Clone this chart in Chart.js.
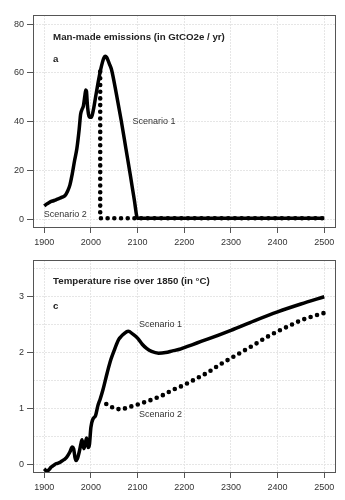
<!DOCTYPE html>
<html>
<head>
<meta charset="utf-8">
<script src="https://cdn.jsdelivr.net/npm/chart.js@4/dist/chart.umd.min.js"></script>
<style>
  body { margin: 0; background: #fff; }
  canvas { position: absolute; left: 0; }
</style>
</head>
<body>
<canvas id="emissions" width="345" height="250" style="top:0"></canvas>
<canvas id="temperature" width="345" height="255" style="top:245px"></canvas>
<script>
// values
const yearTicks = [1900, 2000, 2100, 2200, 2300, 2400, 2500];
const emissionTicks = [0, 20, 40, 60, 80];
const tempTicks = [0, 0.5, 1, 1.5, 2, 2.5, 3, 3.5];

const emYears1 = [1900, 1905, 1910, 1915, 1920, 1925, 1930, 1935, 1940, 1945, 1950, 1955, 1960, 1965, 1970, 1975, 1978, 1981, 1984, 1987, 1989, 1990.5, 1992.5, 1995, 1998, 2001, 2005, 2010, 2015, 2020, 2025, 2028, 2031, 2034, 2037, 2040, 2044, 2055, 2065, 2075, 2085, 2093, 2100, 2500];
const emValues1 = [5.5, 6.2, 6.8, 7.3, 7.6, 8.0, 8.4, 8.8, 9.2, 9.8, 11.5, 14, 18.5, 24, 29, 37, 43, 45, 46.5, 50.5, 53, 52.5, 47, 43, 41.8, 41.8, 44.5, 50, 55.5, 60.5, 64.5, 66.2, 66.8, 66.3, 65, 63.5, 61.5, 51, 40.5, 29, 17.5, 8, 0.4, 0.4];
const emYears2 = [2020, 2020, 2500];
const emValues2 = [60.5, 0.4, 0.4];

const tempYears1 = [1900, 1905, 1910, 1915, 1920, 1925, 1930, 1935, 1940, 1945, 1950, 1955, 1960, 1963, 1966, 1968, 1971, 1975, 1979, 1981, 1985, 1988, 1991, 1994, 1997, 2000, 2005, 2010, 2015, 2020, 2026, 2035, 2043, 2050, 2055, 2060, 2065, 2070, 2080, 2090, 2100, 2110, 2120, 2130, 2145, 2160, 2175, 2190, 2200, 2250, 2300, 2350, 2400, 2450, 2500];
const tempValues1 = [-0.08, -0.12, -0.1, -0.05, -0.02, 0.01, 0.02, 0.04, 0.07, 0.1, 0.15, 0.22, 0.31, 0.28, 0.12, 0.07, 0.1, 0.22, 0.38, 0.44, 0.28, 0.38, 0.47, 0.3, 0.36, 0.66, 0.82, 0.87, 1.05, 1.17, 1.34, 1.64, 1.88, 2.04, 2.15, 2.24, 2.29, 2.33, 2.38, 2.33, 2.26, 2.15, 2.07, 2.02, 1.99, 2.0, 2.03, 2.06, 2.09, 2.24, 2.40, 2.57, 2.73, 2.87, 3.0];
const tempYears2 = [2033, 2050, 2065, 2080, 2100, 2125, 2150, 2175, 2200, 2225, 2250, 2275, 2300, 2325, 2350, 2375, 2400, 2425, 2450, 2475, 2500];
const tempValues2 = [1.08, 1.0, 0.98, 1.02, 1.07, 1.14, 1.22, 1.33, 1.42, 1.53, 1.64, 1.78, 1.90, 2.02, 2.14, 2.27, 2.38, 2.48, 2.58, 2.65, 2.71];

const FONT = '"Liberation Sans", Arial, sans-serif';

function toPoints(xs, ys) {
    return xs.map((x, i) => ({ x: x, y: ys[i] }));
}

// frame round the plot area + text labels in data coords
const framePlugin = {
    id: 'frame',
    beforeDatasetsDraw(chart) {
        const a = chart.chartArea;
        const ctx = chart.ctx;
        ctx.save();
        ctx.strokeStyle = '#555';
        ctx.lineWidth = 1;
        ctx.strokeRect(Math.round(a.left) + 0.5, Math.round(a.top) + 0.5, Math.round(a.right - a.left), Math.round(a.bottom - a.top));
        ctx.restore();
    },
    afterDatasetsDraw(chart, args, opts) {
        const ctx = chart.ctx;
        const xs = chart.scales.x, ys = chart.scales.y;
        ctx.save();
        ctx.textBaseline = 'middle';
        ctx.textAlign = 'left';
        (opts.notes || []).forEach(n => {
            ctx.font = n.bold ? 'bold 9.7px ' + FONT : '9px ' + FONT;
            ctx.fillStyle = n.bold ? '#222' : '#333';
            ctx.fillText(n.text, xs.getPixelForValue(n.x), ys.getPixelForValue(n.y));
        });
        ctx.restore();
    }
};

function makeChart(id, opt) {
    return new Chart(document.getElementById(id), {
        type: 'line',
        data: {
            datasets: [{
                label: 'Scenario 1',
                data: toPoints(opt.x1, opt.y1),
                borderColor: '#000',
                borderWidth: 3.5,
                pointRadius: 0,
                cubicInterpolationMode: 'monotone',
                borderJoinStyle: 'round'
            }, {
                label: 'Scenario 2',
                data: toPoints(opt.x2, opt.y2),
                borderColor: '#000',
                borderWidth: 4.6,
                borderDash: [0, 6.7],
                borderCapStyle: 'round',
                pointRadius: 0,
                tension: 0
            }]
        },
        options: {
            responsive: false,
            animation: false,
            events: [],
            layout: { padding: { top: 15, right: 10, left: 0, bottom: 0 } },
            plugins: {
                legend: { display: false },
                tooltip: { enabled: false },
                frame: { notes: opt.notes }
            },
            scales: {
                x: {
                    type: 'linear',
                    min: 1876,
                    max: 2523,
                    afterBuildTicks: s => { s.ticks = yearTicks.map(v => ({ value: v })); },
                    afterFit: s => { s.height = opt.xHeight; },
                    ticks: {
                        callback: v => String(v),
                        color: '#333',
                        font: { family: FONT, size: 9 },
                        padding: 4,
                        maxRotation: 0
                    },
                    grid: {
                        color: '#e6e6e6',
                        lineWidth: 1,
                        tickColor: '#555',
                        tickLength: 6
                    },
                    border: { display: false, dash: [2, 1] }
                },
                y: {
                    min: opt.yMin,
                    max: opt.yMax,
                    afterBuildTicks: s => { s.ticks = opt.yTicks.map(v => ({ value: v })); },
                    afterFit: s => { s.width = 33; },
                    ticks: {
                        callback: v => (Number.isInteger(v) ? String(v) : ''),
                        color: '#333',
                        font: { family: FONT, size: 9 },
                        padding: 3
                    },
                    grid: {
                        color: '#e6e6e6',
                        lineWidth: 1,
                        tickColor: c => (Number.isInteger(c.tick.value) ? '#555' : 'rgba(0,0,0,0)'),
                        tickLength: 6
                    },
                    border: { display: false, dash: [2, 1] }
                }
            }
        },
        plugins: [framePlugin]
    });
}

makeChart('emissions', {
    x1: emYears1, y1: emValues1, x2: emYears2, y2: emValues2,
    yMin: -3.16, yMax: 83.7, yTicks: emissionTicks, xHeight: 23,
    notes: [
        { text: 'Man-made emissions (in GtCO2e / yr)', x: 1919, y: 74.4, bold: true },
        { text: 'a', x: 1919, y: 65.6, bold: true },
        { text: 'Scenario 1', x: 2089, y: 40.2 },
        { text: 'Scenario 2', x: 1899, y: 2 }
    ]
});

makeChart('temperature', {
    x1: tempYears1, y1: tempValues1, x2: tempYears2, y2: tempValues2,
    yMin: -0.138, yMax: 3.658, yTicks: tempTicks, xHeight: 28,
    notes: [
        { text: 'Temperature rise over 1850 (in \u00B0C)', x: 1919, y: 3.27, bold: true },
        { text: 'c', x: 1919, y: 2.82, bold: true },
        { text: 'Scenario 1', x: 2103, y: 2.5 },
        { text: 'Scenario 2', x: 2103, y: 0.9 }
    ]
});
</script>
</body>
</html>
